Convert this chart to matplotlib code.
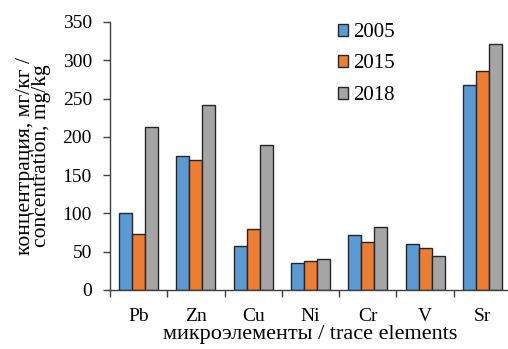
import numpy as np
import matplotlib
matplotlib.use('Agg')
import matplotlib.pyplot as plt

plt.rcParams['font.family'] = ['Liberation Serif', 'DejaVu Serif']

elements = ['Pb', 'Zn', 'Cu', 'Ni', 'Cr', 'V', 'Sr']
years = ['2005', '2015', '2018']
vals_2005 = [100, 175, 58, 35, 72, 60, 268]
vals_2015 = [73, 170, 80, 38, 63, 55, 286]
vals_2018 = [213, 242, 189, 40, 82, 44, 321]

colors = ['#5B9BD5', '#ED7D31', '#A5A5A5']

fig = plt.figure(figsize=(5.08, 3.49), dpi=100)
ax = fig.add_axes([110 / 508, 59 / 349, 401 / 508, 268 / 349])

x = np.arange(len(elements))
w = 0.227
for i, (vals, c, lab) in enumerate(zip([vals_2005, vals_2015, vals_2018], colors, years)):
    ax.bar(x + (i - 1) * w, vals, width=w, color=c, edgecolor='#262626',
           linewidth=1.0, label=lab)

ax.set_xlim(-0.5, len(elements) - 0.5)
ax.set_ylim(0, 350)
ax.set_yticks(range(0, 351, 50))
ax.set_xticks(x)
ax.set_xticklabels(elements)
ax.set_xticks(np.arange(-0.5, len(elements) - 0.4, 1), minor=True)
ax.tick_params(axis='x', which='major', length=0, pad=13, labelsize=14)
ax.tick_params(axis='x', which='minor', length=5, width=1, color='#404040')
ax.tick_params(axis='y', length=5, width=1, color='#404040', labelsize=14, pad=8)

for s in ('top', 'right'):
    ax.spines[s].set_visible(False)
for s in ('left', 'bottom'):
    ax.spines[s].set_color('#404040')
    ax.spines[s].set_linewidth(1)

ax.set_xlabel('микроэлементы / trace elements', fontsize=16, labelpad=0)
ax.set_ylabel('концентрация, мг/кг /\nconcentration, mg/kg', fontsize=15.5,
              labelpad=8, linespacing=0.85)

ax.legend(loc='upper left', bbox_to_anchor=(338 / 508, 326 / 349),
          bbox_transform=fig.transFigure, frameon=False,
          fontsize=15, handlelength=0.5, handleheight=0.5, handletextpad=0.25,
          labelspacing=0.6, borderaxespad=0, borderpad=0)

fig.savefig('out.png', dpi=100, facecolor='white')
